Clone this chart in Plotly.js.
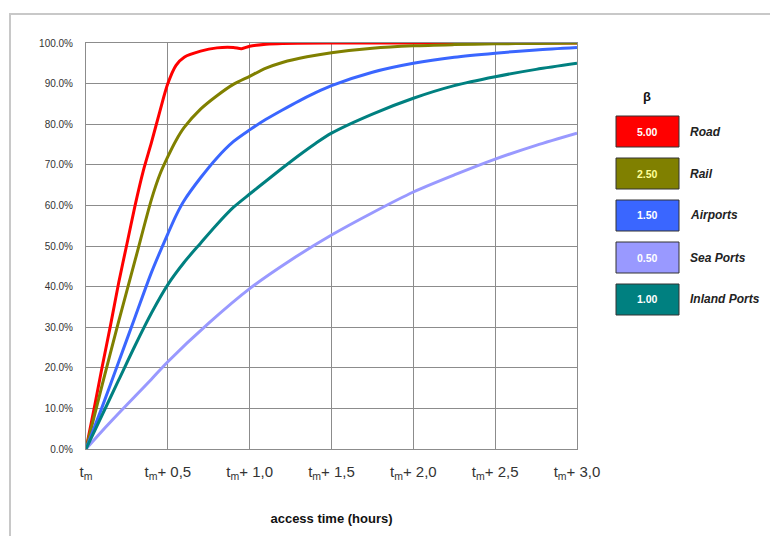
<!DOCTYPE html>
<html>
<head>
<meta charset="utf-8">
<script src="https://cdn.plot.ly/plotly-3.0.1.min.js"></script>
<style>html,body{margin:0;padding:0;background:#fff;}#chart{width:770px;height:536px;}</style>
</head>
<body>
<div id="chart"></div>
<script>
// ---- Data ----
const roadT   = [0, 0.05, 0.1, 0.15, 0.2, 0.25, 0.3, 0.35, 0.4, 0.45, 0.5, 0.55, 0.6, 0.7, 0.8, 0.9, 0.95, 1.0, 1.1, 1.2, 1.5, 2.0, 2.5, 3.0];
const roadV   = [0, 0.10, 0.205, 0.305, 0.41, 0.505, 0.60, 0.685, 0.755, 0.83, 0.90, 0.945, 0.965, 0.980, 0.988, 0.989, 0.986, 0.992, 0.997, 0.999, 1.0, 1.0, 1.0, 1.0];

const railT   = [0, 0.1, 0.2, 0.3, 0.4, 0.45, 0.5, 0.55, 0.6, 0.7, 0.8, 0.9, 1.0, 1.1, 1.2, 1.35, 1.5, 1.75, 2.0, 2.25, 2.5, 2.75, 3.0];
const railV   = [0, 0.16, 0.315, 0.465, 0.615, 0.675, 0.72, 0.76, 0.792, 0.837, 0.87, 0.898, 0.918, 0.938, 0.952, 0.966, 0.976, 0.987, 0.993, 0.996, 0.998, 0.999, 1.0];

const airT    = [0, 0.1, 0.2, 0.3, 0.4, 0.5, 0.55, 0.6, 0.7, 0.8, 0.9, 1.0, 1.1, 1.2, 1.3, 1.4, 1.5, 1.75, 2.0, 2.25, 2.5, 2.75, 3.0];
const airV    = [0, 0.105, 0.215, 0.325, 0.435, 0.53, 0.575, 0.612, 0.668, 0.717, 0.757, 0.786, 0.812, 0.835, 0.857, 0.877, 0.895, 0.928, 0.95, 0.965, 0.975, 0.983, 0.989];

const seaT    = [0, 0.1, 0.2, 0.3, 0.4, 0.5, 0.75, 1.0, 1.25, 1.5, 1.75, 2.0, 2.25, 2.5, 2.75, 3.0];
const seaV    = [0, 0.045, 0.088, 0.13, 0.172, 0.215, 0.31, 0.395, 0.465, 0.527, 0.582, 0.633, 0.675, 0.714, 0.748, 0.778];

const inlandT = [0, 0.1, 0.2, 0.3, 0.4, 0.5, 0.6, 0.7, 0.8, 0.9, 1.0, 1.1, 1.2, 1.3, 1.4, 1.5, 1.75, 2.0, 2.25, 2.5, 2.75, 3.0];
const inlandV = [0, 0.085, 0.17, 0.255, 0.335, 0.405, 0.46, 0.507, 0.553, 0.595, 0.628, 0.66, 0.692, 0.723, 0.752, 0.778, 0.825, 0.864, 0.895, 0.917, 0.935, 0.95];

const seriesNames  = ["Road", "Rail", "Airports", "Sea Ports", "Inland Ports"];
const betaLabels   = ["5.00", "2.50", "1.50", "0.50", "1.00"];
const seriesColors = ["#ff0000", "#808000", "#3a66ff", "#9999ff", "#008080"];
const betaTextColors = ["#ffffff", "#ffff99", "#ffffff", "#ffffff", "#ffffff"];

const xTickVals = [0, 0.5, 1.0, 1.5, 2.0, 2.5, 3.0];
const xTickText = ["t<sub>m</sub>", "t<sub>m</sub>+ 0,5", "t<sub>m</sub>+ 1,0", "t<sub>m</sub>+ 1,5", "t<sub>m</sub>+ 2,0", "t<sub>m</sub>+ 2,5", "t<sub>m</sub>+ 3,0"];
const yTickVals = [0, 0.1, 0.2, 0.3, 0.4, 0.5, 0.6, 0.7, 0.8, 0.9, 1.0];

// ---- Build traces ----
const xs = [roadT, railT, airT, seaT, inlandT];
const ys = [roadV, railV, airV, seaV, inlandV];
const traces = seriesNames.map((n, i) => ({
  type: "scatter", mode: "lines", name: n,
  x: xs[i], y: ys[i],
  line: {color: seriesColors[i], width: 3, shape: "spline", smoothing: 0.8},
  hoverinfo: "skip"
}));

// ---- Layout geometry (pixels) ----
const W = 770, H = 536;
const L = 86, R = 577, T = 43, B = 449;
const px = p => (p - L) / (R - L);
const py = p => (B - p) / (B - T);

const shapes = [];
const annotations = [];

// outer chart frame
shapes.push({type: "rect", xref: "paper", yref: "paper",
  x0: px(10), x1: px(800), y0: py(600), y1: py(14),
  line: {color: "#c8c8c8", width: 2}, fillcolor: "rgba(0,0,0,0)", layer: "below"});

// legend title
annotations.push({xref: "paper", yref: "paper", x: px(647), y: py(96),
  text: "<b>β</b>", showarrow: false, font: {family: "Liberation Sans, Arial", size: 13, color: "#111"},
  xanchor: "center", yanchor: "middle"});

const boxTops = [116, 158, 200, 242, 284];
seriesNames.forEach((n, i) => {
  const y0 = boxTops[i], y1 = boxTops[i] + 31;
  shapes.push({type: "rect", xref: "paper", yref: "paper",
    x0: px(616), x1: px(679), y0: py(y1), y1: py(y0),
    fillcolor: seriesColors[i], line: {color: "#333333", width: 1}});
  annotations.push({xref: "paper", yref: "paper", x: px(647.5), y: py((y0 + y1) / 2),
    text: "<b>" + betaLabels[i] + "</b>", showarrow: false,
    font: {family: "Liberation Sans, Arial", size: 10.5, color: betaTextColors[i]},
    xanchor: "center", yanchor: "middle"});
  annotations.push({xref: "paper", yref: "paper", x: px(688), y: py((y0 + y1) / 2),
    text: "<b><i>" + n + "</i></b>", showarrow: false,
    font: {family: "Liberation Sans, Arial", size: 12, color: "#222"},
    xanchor: "left", yanchor: "middle"});
});

const layout = {
  width: W, height: H,
  margin: {l: L, r: W - R, t: T, b: H - B, pad: 0},
  paper_bgcolor: "#ffffff", plot_bgcolor: "#ffffff",
  showlegend: false,
  font: {family: "Liberation Sans, Arial", color: "#222"},
  xaxis: {
    range: [0, 3.0], tickvals: xTickVals, ticktext: xTickText,
    showgrid: true, gridcolor: "#8c8c8c", gridwidth: 1,
    showline: true, linecolor: "#8c8c8c", linewidth: 1, mirror: true,
    zeroline: false, ticks: "", ticklabelstandoff: 9,
    tickfont: {family: "Liberation Sans, Arial", size: 15, color: "#333"},
    title: {text: "<b>access time (hours)</b>", standoff: 32,
      font: {family: "Liberation Sans, Arial", size: 13, color: "#111"}},
    fixedrange: true
  },
  yaxis: {
    range: [0, 1.0], tickvals: yTickVals, tickformat: ".1%",
    showgrid: true, gridcolor: "#8c8c8c", gridwidth: 1,
    showline: true, linecolor: "#8c8c8c", linewidth: 1, mirror: true,
    zeroline: false, ticks: "", ticklabelstandoff: 10,
    tickfont: {family: "Liberation Sans, Arial", size: 10, color: "#333"},
    fixedrange: true
  },
  shapes: shapes,
  annotations: annotations
};

Plotly.newPlot("chart", traces, layout, {staticPlot: true, displayModeBar: false});
</script>
</body>
</html>
